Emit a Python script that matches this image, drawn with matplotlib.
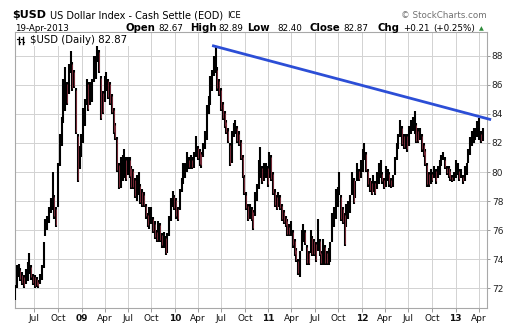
import matplotlib
matplotlib.use("Agg")
import matplotlib.pyplot as plt
from matplotlib.lines import Line2D
from matplotlib.patches import Rectangle
import numpy as np
from datetime import date, timedelta

# weekly bars (mid-week dates), starting week of 18-Apr-2008
first_week = date(2008, 4, 16)

week_low = [
    # 2008
    71.2, 72.0,
    72.8, 72.5, 72.2, 72.0, 72.3,
    72.5, 73.0, 72.6, 72.2,
    72.0, 72.1, 72.0, 72.3,
    72.6, 73.4, 75.6, 76.0, 76.5,
    77.2, 77.4, 76.8, 76.2,
    77.6, 80.4, 81.8, 83.4, 84.2,
    84.6, 85.4, 86.8, 85.6,
    85.8, 82.6, 79.3, 80.2,
    # 2009
    81.0, 82.0, 83.2, 84.6, 84.2,
    84.6, 84.8, 86.2, 86.4,
    87.6, 86.8, 83.6, 84.0,
    84.8, 85.6, 85.0, 84.6,
    84.0, 82.6, 82.2, 80.0, 78.8,
    78.9, 79.4, 79.6, 79.4,
    79.8, 79.6, 78.8, 78.8, 78.2,
    78.0, 78.4, 77.8, 77.6,
    77.6, 76.8, 76.2, 76.1,
    76.4, 75.8, 75.4, 75.2, 75.2,
    75.2, 74.8, 74.8, 74.3,
    74.4, 75.6, 76.6, 77.6,
    # 2010
    77.4, 76.8, 76.6, 77.4, 78.6,
    79.2, 79.6, 80.0, 80.2,
    80.2, 80.2, 80.3, 81.0,
    80.8, 80.4, 80.3, 81.0, 81.6,
    82.2, 84.0, 84.6, 85.6,
    86.6, 86.8, 85.6, 85.2,
    84.2, 83.6, 83.0, 82.6, 82.0,
    80.4, 80.6, 82.4, 82.6,
    82.0, 81.8, 80.8, 79.6,
    78.4, 77.4, 76.6, 76.8, 76.6,
    76.0, 77.0, 78.0, 78.8,
    79.6, 79.2, 79.4, 79.6, 79.0,
    # 2011
    79.6, 79.4, 78.4, 77.6,
    77.4, 77.6, 77.4, 76.6,
    76.4, 76.2, 75.6, 75.6,
    75.6, 74.8, 74.2, 73.8, 72.9,
    72.8, 74.6, 75.2, 75.0,
    73.6, 73.6, 74.4, 74.2,
    74.2, 73.8, 74.6, 74.2, 73.6,
    73.6, 73.6, 73.6, 73.6,
    73.8, 75.2, 76.2, 76.8, 77.6,
    78.4, 76.6, 76.4, 74.9,
    76.2, 76.8, 77.2, 78.4,
    77.8, 78.2, 79.4, 79.4, 79.6,
    # 2012
    80.0, 80.8, 80.0, 79.0,
    78.6, 78.4, 78.6, 78.4,
    78.8, 79.2, 79.6, 79.2, 78.8,
    79.0, 79.4, 79.0, 78.9,
    79.0, 79.8, 80.8, 81.6,
    82.4, 81.8, 81.6, 81.6, 81.4,
    81.8, 82.6, 82.8, 82.6,
    82.0, 82.0, 82.2, 81.4, 81.0,
    80.4, 79.0, 79.0, 79.2,
    79.3, 79.6, 79.2, 79.6,
    79.8, 80.4, 80.8, 80.2, 79.8,
    79.6, 79.4, 79.3, 79.4,
    # 2013
    79.6, 79.8, 79.4, 79.6,
    79.2, 79.4, 79.8, 80.6,
    81.2, 81.8, 82.0, 82.2, 82.4,
    82.2, 82.0, 82.1,
]

week_high = [
    # 2008
    72.2, 73.6,
    73.7, 73.4, 73.1, 72.9, 73.3,
    73.8, 74.4, 73.6, 73.0,
    72.9, 72.8, 72.6, 73.0,
    73.6, 75.2, 76.8, 77.0, 77.6,
    78.2, 80.0, 78.4, 77.6,
    80.6, 82.6, 83.8, 86.4, 87.2,
    86.2, 87.4, 88.3, 87.6,
    87.0, 85.8, 82.6, 81.8,
    # 2009
    82.6, 84.4, 85.0, 86.4, 86.2,
    86.2, 86.4, 88.0, 88.0,
    89.4, 88.4, 86.6, 85.6,
    86.6, 86.9, 86.4, 86.2,
    85.4, 84.4, 83.4, 82.4, 80.6,
    81.0, 81.2, 81.6, 81.0,
    81.0, 81.0, 80.4, 80.2, 79.6,
    79.8, 80.0, 79.2, 78.8,
    78.6, 77.8, 77.2, 77.6,
    77.6, 76.9, 76.6, 76.0, 76.6,
    76.5, 75.8, 75.9, 75.6,
    75.8, 77.0, 78.2, 78.7,
    # 2010
    78.4, 78.2, 77.6, 78.8, 79.6,
    80.6, 80.6, 81.4, 81.0,
    81.2, 81.0, 81.4, 82.5,
    81.8, 81.6, 81.4, 82.0, 82.8,
    84.6, 85.2, 86.6, 87.0,
    88.0, 88.7, 87.2, 86.4,
    85.8, 84.8, 84.2, 83.6, 83.0,
    82.0, 82.8, 83.4, 83.6,
    83.2, 82.8, 82.2, 81.2,
    79.8, 78.6, 77.8, 77.8, 77.6,
    77.4, 78.6, 79.2, 80.8,
    81.7, 80.4, 80.6, 80.6, 80.4,
    # 2011
    81.4, 81.2, 80.0, 78.8,
    78.4, 78.6, 78.4, 77.8,
    77.4, 77.0, 76.8, 76.4,
    76.6, 76.0, 75.4, 74.8, 74.0,
    74.6, 76.0, 76.4, 76.0,
    75.0, 74.6, 76.0, 75.6,
    75.4, 75.2, 76.8, 75.4, 74.6,
    75.4, 75.0, 74.6, 74.8,
    75.2, 77.2, 77.6, 78.8, 79.0,
    80.0, 78.4, 77.6, 77.2,
    77.8, 78.0, 78.4, 80.0,
    79.6, 79.4, 80.6, 80.2, 80.8,
    # 2012
    81.6, 82.0, 81.4, 80.2,
    79.6, 79.4, 79.8, 79.4,
    80.0, 80.6, 80.8, 80.0, 79.6,
    80.4, 80.2, 80.0, 79.6,
    79.8, 81.0, 82.0, 82.6,
    83.6, 83.2, 82.6, 82.6, 82.6,
    83.2, 83.6, 83.8, 84.2,
    83.4, 83.0, 83.0, 82.6, 82.0,
    81.6, 80.6, 80.0, 80.2,
    80.0, 80.4, 80.2, 80.4,
    80.8, 81.2, 81.4, 81.0, 80.4,
    80.4, 80.2, 79.8, 80.0,
    # 2013
    80.8, 80.6, 80.2, 80.2,
    79.8, 80.4, 80.6, 81.6,
    82.4, 82.8, 83.0, 83.0, 83.5,
    83.7, 82.8, 83.0,
]

# resistance line from the June 2010 high
trend_dates = [date(2010, 5, 26), date(2013, 5, 20)]
trend_values = [88.7, 83.6]

quote_day = "19-Apr-2013"
quote_open, quote_high, quote_low, quote_close = 82.67, 82.89, 82.40, 82.87
quote_chg, quote_pct = 0.21, 0.25

y_ticks = [72, 74, 76, 78, 80, 82, 84, 86, 88]
quarter_ticks = [date(y, m, 1) for y in range(2008, 2014) for m in (1, 4, 7, 10)]
quarter_ticks = [d for d in quarter_ticks if date(2008, 7, 1) <= d <= date(2013, 4, 1)]

W, H = 520, 332
fig = plt.figure(figsize=(W / 100, H / 100), dpi=100)
fig.patch.set_facecolor("white")

ax = fig.add_axes([15 / W, (H - 308) / H, 472 / W, 276 / H])

dates = [first_week + timedelta(days=7 * i) for i in range(len(week_low))]
lo = np.array(week_low)
hi = np.array(week_high)
mid = (lo + hi) / 2
down = np.r_[False, mid[1:] < mid[:-1]]

# black bars, with a thin maroon core on the down weeks
ax.vlines(dates, lo, hi, colors="black", lw=1.5, zorder=3)
dd = [d for d, f in zip(dates, down) if f]
ax.vlines(dd, lo[down] + 0.15, hi[down] - 0.15, colors="#8a3040", lw=0.6, zorder=3.5)

ax.plot(trend_dates, trend_values, color="#2c4ed6", lw=2.0, zorder=4,
        solid_capstyle="butt", clip_on=False)

ax.set_xlim(date(2008, 4, 16), date(2013, 5, 4))
ax.set_ylim(70.65, 89.63)

ax.set_xticks(quarter_ticks)
labels = []
for d in quarter_ticks:
    labels.append(d.strftime("%y") if d.month == 1 else d.strftime("%b"))
ax.set_xticklabels(labels)
for t, d in zip(ax.get_xticklabels(), quarter_ticks):
    if d.month == 1:
        t.set_fontweight("bold")

ax.yaxis.tick_right()
ax.set_yticks(y_ticks)
ax.set_yticklabels([str(v) for v in y_ticks])

ax.tick_params(axis="x", length=3, width=0.7, color="#9a9a9a", pad=1.5,
               labelsize=6.5, labelcolor="#111111")
ax.tick_params(axis="y", length=2.5, width=0.7, color="#9a9a9a", pad=1,
               labelsize=6.5, labelcolor="#222222")

ax.grid(True, color="#d2d2d2", lw=0.7)
ax.set_axisbelow(True)
for s in ax.spines.values():
    s.set_color("#a8a8a8")
    s.set_linewidth(0.8)


def put(x, y, s, **kw):
    fig.text(x / W, 1 - y / H, s, va="baseline", **kw)


# header
put(12, 18.3, "$USD", fontsize=8.0, fontweight="bold")
put(50, 18.3, "US Dollar Index - Cash Settle (EOD)", fontsize=7.0)
put(227, 18.3, "ICE", fontsize=6.0)
put(487, 18.3, "\u00a9 StockCharts.com", fontsize=6.3, color="#707070", ha="right")

put(15, 30.7, quote_day, fontsize=6.3)
put(125, 30.7, "Open", fontsize=7.3, fontweight="bold")
put(158, 30.7, f"{quote_open:.2f}", fontsize=6.3)
put(190, 30.7, "High", fontsize=7.3, fontweight="bold")
put(218, 30.7, f"{quote_high:.2f}", fontsize=6.3)
put(247, 30.7, "Low", fontsize=7.3, fontweight="bold")
put(277, 30.7, f"{quote_low:.2f}", fontsize=6.3)
put(310, 30.7, "Close", fontsize=7.3, fontweight="bold")
put(343, 30.7, f"{quote_close:.2f}", fontsize=6.3)
put(378, 30.7, "Chg", fontsize=7.3, fontweight="bold")
put(403, 30.7, f"{quote_chg:+.2f}", fontsize=6.3)
put(433, 30.7, f"({quote_pct:+.2f}%)", fontsize=6.3)
put(479, 30.7, "\u25b2", fontsize=4.5, color="#2e8b3a")

# legend box in the top-left corner of the plot
fig.patches.append(Rectangle((16 / W, 1 - 46 / H), 122 / W, 13 / H,
                             transform=fig.transFigure, facecolor="white",
                             edgecolor="none", zorder=5))
for bx in (18.5, 22.5):
    fig.lines.append(Line2D([bx / W, bx / W], [1 - 43.5 / H, 1 - 36.5 / H],
                            transform=fig.transFigure, color="black", lw=1.0, zorder=6))
    fig.lines.append(Line2D([(bx - 1.5) / W, bx / W], [1 - 39 / H, 1 - 39 / H],
                            transform=fig.transFigure, color="black", lw=0.8, zorder=6))
    fig.lines.append(Line2D([bx / W, (bx + 1.5) / W], [1 - 41.5 / H, 1 - 41.5 / H],
                            transform=fig.transFigure, color="black", lw=0.8, zorder=6))
fig.text(30 / W, 1 - 43 / H, f"$USD (Daily) {quote_close:.2f}", fontsize=7.3,
         va="baseline", zorder=7)

fig.savefig("out.png", dpi=100, facecolor="white")
